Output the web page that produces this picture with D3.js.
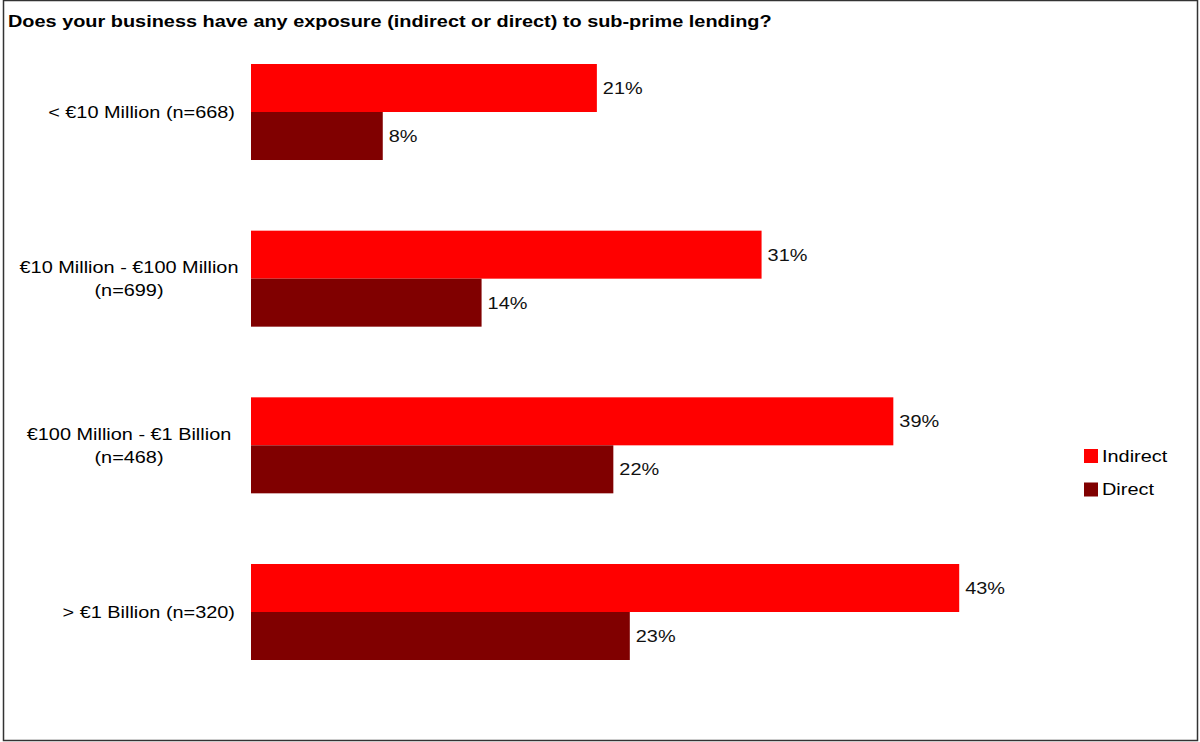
<!DOCTYPE html>
<html>
<head>
<meta charset="utf-8">
<script src="https://cdn.jsdelivr.net/npm/d3@7/dist/d3.min.js"></script>
<style>
  html, body { margin: 0; padding: 0; background: #fff; }
  svg { display: block; }
  text { font-family: "Liberation Sans", Arial, sans-serif; }
</style>
</head>
<body>
<svg id="chart" width="1200" height="742"></svg>
<script>
// Survey: exposure to sub-prime lending, by company size
const title = "Does your business have any exposure (indirect or direct) to sub-prime lending?";
const categories = [
  ["< €10 Million (n=668)"],
  ["€10 Million - €100 Million", "(n=699)"],
  ["€100 Million - €1 Billion", "(n=468)"],
  ["> €1 Billion (n=320)"]
];
const seriesNames = ["Indirect", "Direct"];
const indirect = [0.21, 0.31, 0.39, 0.43];
const direct = [0.08, 0.14, 0.22, 0.23];
const colors = ["#ff0000", "#800000"];

const FS = 17;      // font size
const SX = 1.17;    // horizontal stretch of the text

const svg = d3.select("#chart");

// places a text at (x, y) with a horizontal stretch around its anchor
function label(parent, x, y, str, opts = {}) {
  return parent.append("text")
    .attr("transform", `translate(${x},${y}) scale(${SX},1)`)
    .attr("text-anchor", opts.anchor || "start")
    .attr("dy", opts.dy || "0.35em")
    .attr("font-size", opts.size || FS)
    .attr("font-weight", opts.weight || "normal")
    .attr("fill", opts.fill || "#000")
    .text(str);
}

// outer frame
svg.append("rect")
  .attr("x", 3.5).attr("y", 0.5)
  .attr("width", 1194).attr("height", 740)
  .attr("fill", "#fff")
  .attr("stroke", "#333").attr("stroke-width", 1.5);

label(svg, 8, 21, title, { weight: "bold", dy: 0 });

const x = d3.scaleLinear().domain([0, 1]).range([251, 251 + 1647]);
const idx = d3.range(categories.length);
const y = d3.scaleBand().domain(idx).range([28.67, 695.33])
  .paddingInner(0.424).paddingOuter(0.212);
const ySub = d3.scaleBand().domain(seriesNames).range([0, y.bandwidth()]);

const values = [indirect, direct];
const pct = d3.format(".0%");

const plot = svg.append("g");
idx.forEach(i => {
  const g = plot.append("g").attr("transform", `translate(0,${y(i)})`);
  seriesNames.forEach((s, si) => {
    const v = values[si][i];
    g.append("rect")
      .attr("x", x(0))
      .attr("y", ySub(s))
      .attr("width", x(v) - x(0))
      .attr("height", ySub.bandwidth())
      .attr("fill", colors[si]);
    label(g, x(v) + 6, ySub(s) + ySub.bandwidth() / 2, pct(v), { fill: "#111" });
  });

  // category label, one or two lines
  const lines = categories[i];
  const cy = y(i) + y.bandwidth() / 2;
  const lh = 23;
  lines.forEach((ln, k) => {
    const ly = cy + (k - (lines.length - 1) / 2) * lh;
    if (lines.length === 1) label(svg, 235, ly, ln, { anchor: "end" });
    else label(svg, 129, ly, ln, { anchor: "middle" });
  });
});

// legend
seriesNames.forEach((s, i) => {
  const g = svg.append("g").attr("transform", `translate(1084,${449 + i * 33.5})`);
  g.append("rect").attr("width", 14).attr("height", 14).attr("fill", colors[i]);
  label(g, 18, 7, s);
});
</script>
</body>
</html>
